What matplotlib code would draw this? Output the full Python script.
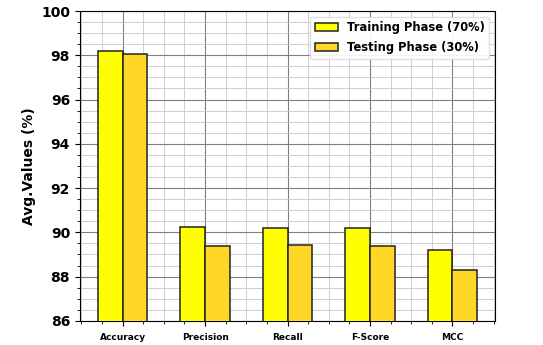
import numpy as np
import matplotlib
matplotlib.use("Agg")
import matplotlib.pyplot as plt
from matplotlib.ticker import MultipleLocator

# Data
metrics = ["Accuracy", "Precision", "Recall", "F-Score", "MCC"]
training = [98.19, 90.22, 90.19, 90.19, 89.22]
testing = [98.06, 89.40, 89.45, 89.40, 88.32]
series_labels = ["Training Phase (70%)", "Testing Phase (30%)"]

fig = plt.figure(figsize=(5.43, 3.45), dpi=100)
ax = fig.add_axes([0.147, 0.07, 0.765, 0.898])

x = np.arange(len(metrics))
w = 0.3
ax.bar(x - w / 2, training, w, color="#FFFF00", edgecolor="#222222", linewidth=1.1,
       label=series_labels[0], zorder=3)
ax.bar(x + w / 2, testing, w, color="#FFD827", edgecolor="#222222", linewidth=1.1,
       label=series_labels[1], zorder=3)

ax.set_ylim(86, 100)
ax.set_xlim(-0.52, 4.52)
ax.set_xticks(x)
ax.set_xticklabels(metrics, fontsize=6.5, fontweight="bold")
ax.tick_params(axis="x", pad=5)
ax.yaxis.set_major_locator(MultipleLocator(2))
ax.yaxis.set_minor_locator(MultipleLocator(0.5))
ax.xaxis.set_minor_locator(MultipleLocator(0.25))
for lbl in ax.get_yticklabels():
    lbl.set_fontweight("bold")
    lbl.set_fontsize(10)

ax.grid(which="major", color="#808080", linewidth=0.8, zorder=0)
ax.grid(which="minor", color="#c8c8c8", linewidth=0.6, zorder=0)
ax.set_axisbelow(True)

ax.set_ylabel("Avg.Values (%)", fontsize=10, fontweight="bold")
ax.legend(loc="upper right", prop={"weight": "bold", "size": 8.3},
          framealpha=0.9, edgecolor="#dddddd", handlelength=2.0,
          labelspacing=0.6)

fig.savefig("out.png", dpi=100)
